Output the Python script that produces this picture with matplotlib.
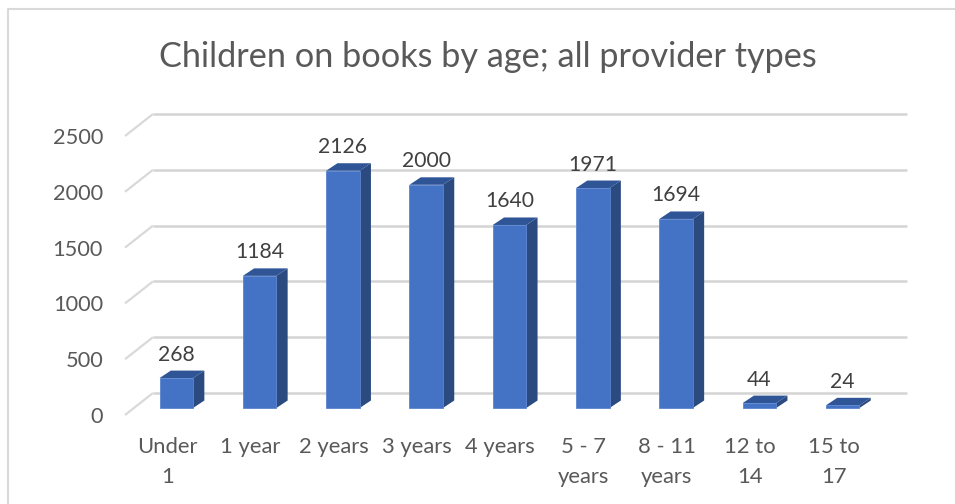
import matplotlib
matplotlib.use("Agg")
import matplotlib.pyplot as plt
from matplotlib.patches import Polygon

plt.rcParams['font.family'] = ['Lato', 'DejaVu Sans']

categories = ["Under\n1", "1 year", "2 years", "3 years", "4 years",
              "5 - 7\nyears", "8 - 11\nyears", "12 to\n14", "15 to\n17"]
values = [268, 1184, 2126, 2000, 1640, 1971, 1694, 44, 24]
y_ticks = [0, 500, 1000, 1500, 2000, 2500]
title = "Children on books by age; all provider types"

W, H = 955, 504
# pixel layout of the 3d box
x_first = 176.3
x_step = 83.3
y_zero = 408.0
px_per_unit = 55.8 / 500

fig = plt.figure(figsize=(W / 100, H / 100), dpi=100)
ax = fig.add_axes([0, 0, 1, 1])
ax.set_xlim((0 - x_first) / x_step, (W - x_first) / x_step)
ax.set_ylim((y_zero - H) / px_per_unit, y_zero / px_per_unit)
ax.axis('off')

bar_w = 33.5 / x_step
depth_x = 11.3 / x_step
depth_y = 7.5 / px_per_unit

# walls: gridlines go from the front left corner back then across
wall_left = (125 - x_first) / x_step
wall_back = (153 - x_first) / x_step
wall_right = (906.5 - x_first) / x_step
wall_dy = 22 / px_per_unit
for t in y_ticks:
    ax.plot([wall_left, wall_back], [t - 7 / px_per_unit, t - 7 / px_per_unit + wall_dy],
            color='#d9d9d9', lw=1.6, solid_capstyle='butt')
    ax.plot([wall_back, wall_right], [t - 7 / px_per_unit + wall_dy] * 2,
            color='#d4d4d4', lw=1.8, solid_capstyle='butt')
    ax.text((103 - x_first) / x_step, t - 9 / px_per_unit, str(t), ha='right', va='center',
            fontsize=15.7, color='#595959')

for i, (v, c) in enumerate(zip(values, categories)):
    l, r = i - bar_w / 2, i + bar_w / 2
    ax.add_patch(Polygon([(r, 0), (r + depth_x, depth_y), (r + depth_x, v + depth_y), (r, v)],
                         fc='#2a4a80', ec='none', zorder=3))
    ax.add_patch(Polygon([(l, v), (l + depth_x, v + depth_y), (r + depth_x, v + depth_y), (r, v)],
                         fc='#2f5597', ec='none', zorder=3))
    ax.add_patch(Polygon([(l, 0), (r, 0), (r, v), (l, v)],
                         fc='#4472c4', ec='#5b85cf', lw=0.6, zorder=4))
    ax.text(i, v + 13.5 / px_per_unit, str(v), ha='center', va='bottom',
            fontsize=15.2, color='#404040', zorder=5)
    ax.text(i - 0.11, -29 / px_per_unit, c, ha='center', va='top', fontsize=15.8,
            color='#595959', linespacing=1.62)

ax.text(488 / W, 1 - 57 / H, title, transform=ax.transAxes, ha='center', va='center',
        fontsize=24.7, color='#595959')

# chart frame, only top and left show in the crop
fx0, fy0 = 7.5 / W, 1 - 9 / H
ax.plot([fx0, fx0, 1], [0, fy0, fy0], transform=ax.transAxes,
        color='#d9d9d9', lw=1.5)

fig.savefig("out.png", dpi=100)
